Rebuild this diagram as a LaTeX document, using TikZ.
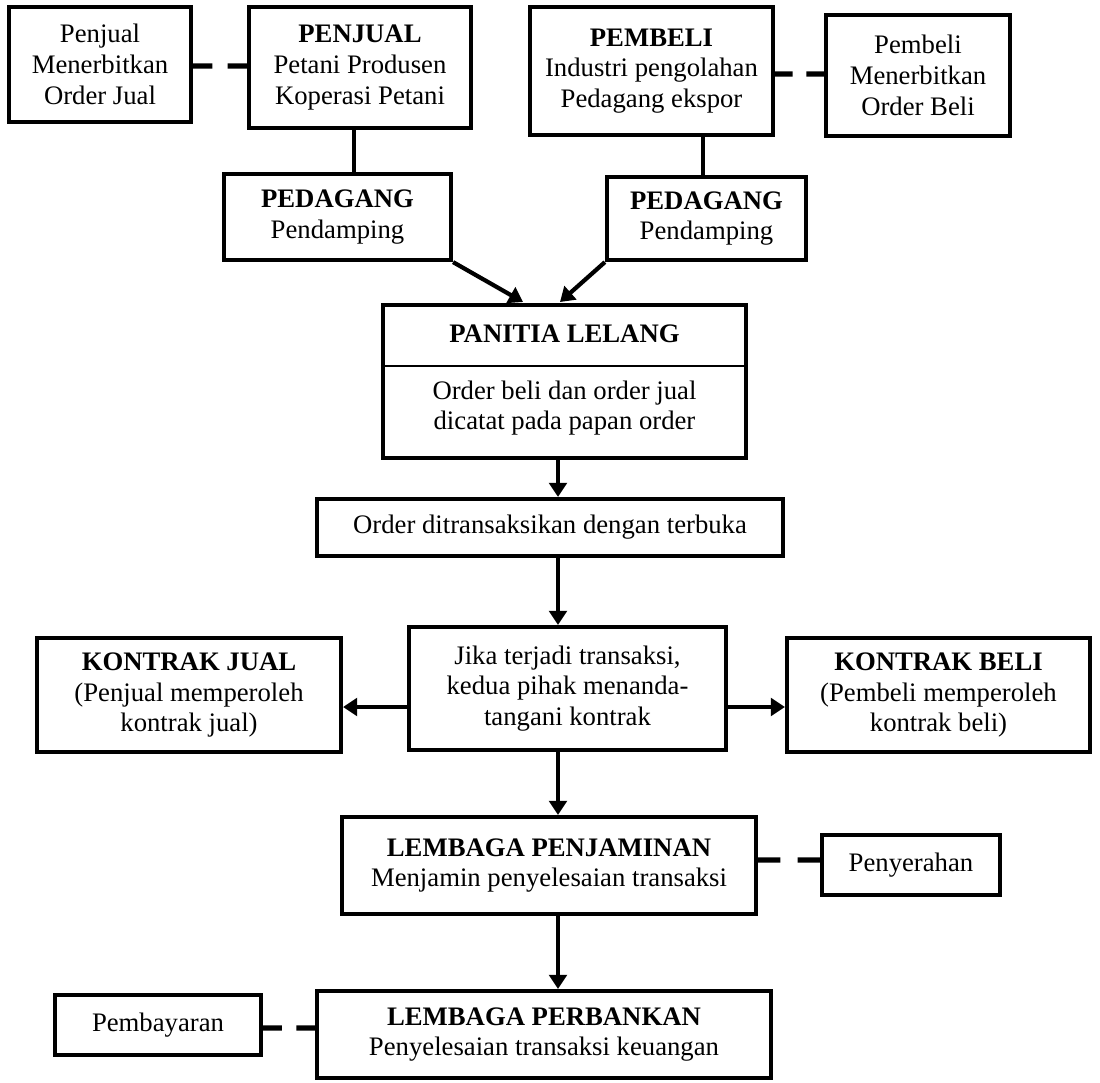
\documentclass[tikz,border=0pt]{standalone}
\usepackage{fontspec}
\setmainfont{Liberation Serif}
\usetikzlibrary{arrows.meta,calc}

\tikzset{
  box/.style={draw, line width=2.4pt, align=center, inner sep=1pt,
    font=\fontsize{15.2pt}{17.5pt}\selectfont},
  plain/.style={align=center, inner sep=0pt, font=\fontsize{15.2pt}{17.5pt}\selectfont},
  flow/.style={line width=2.4pt, -{Triangle[width=10pt,length=8pt]}},
  link/.style={line width=2.4pt},
  dashlink/.style={line width=2.9pt},
}

\begin{document}
\begin{tikzpicture}[x=0.02cm, y=-0.02cm]
    \useasboundingbox (0,0) rectangle (1100,1083);

    % Penjual dan pembeli
    \node[box, minimum width=3.64cm, minimum height=2.30cm] (ordjual) at (100,64.5)
        {Penjual\\Menerbitkan\\Order Jual};
    \node[box, minimum width=4.44cm, minimum height=2.42cm] (penjual) at (360,67.5)
        {\textbf{PENJUAL}\\Petani Produsen\\Koperasi Petani};
    \node[box, minimum width=4.54cm, minimum height=1.72cm] (pedagangL) at (337.5,217)
        {\textbf{PEDAGANG}\\Pendamping};
    \node[box, minimum width=4.86cm, minimum height=2.56cm] (pembeli) at (651.5,71)
        {\textbf{PEMBELI}\\Industri pengolahan\\Pedagang ekspor};
    \node[box, minimum width=3.68cm, minimum height=2.42cm] (ordbeli) at (918,75.5)
        {Pembeli\\Menerbitkan\\Order Beli};
    \node[box, minimum width=3.98cm, minimum height=1.66cm] (pedagangR) at (706.5,218.5)
        {\textbf{PEDAGANG}\\Pendamping};

    % Panitia lelang
    \node[box, minimum width=7.26cm, minimum height=3.06cm] (panitia) at (564.5,381.5) {};
    \node[plain] (panitiaJudul) at (564.5,334) {\textbf{PANITIA LELANG}};
    \node[plain] (panitiaIsi) at (564.5,408) {Order beli dan order jual\\dicatat pada papan order};
    \draw[line width=1.1pt] (panitia.west |- 0,366) -- (panitia.east |- 0,366);

    \node[box, minimum width=9.32cm, minimum height=1.14cm] (terbuka) at (550,527.5)
        {Order ditransaksikan dengan terbuka};

    % Kontrak
    \node[box, minimum width=6.34cm, minimum height=2.46cm] (transaksi) at (567.5,688.5)
        {Jika terjadi transaksi,\\kedua pihak menanda-\\tangani kontrak};
    \node[box, minimum width=6.08cm, minimum height=2.28cm] (kjual) at (189,695)
        {\textbf{KONTRAK JUAL}\\(Penjual memperoleh\\kontrak jual)};
    \node[box, minimum width=6.06cm, minimum height=2.28cm] (kbeli) at (938.5,695)
        {\textbf{KONTRAK BELI}\\(Pembeli memperoleh\\kontrak beli)};

    % Lembaga
    \node[box, minimum width=8.28cm, minimum height=1.94cm] (penjaminan) at (549,865.5)
        {\textbf{LEMBAGA PENJAMINAN}\\Menjamin penyelesaian transaksi};
    \node[box, minimum width=3.56cm, minimum height=1.2cm] (penyerahan) at (911,865)
        {Penyerahan};
    \node[box, minimum width=9.08cm, minimum height=1.74cm] (perbankan) at (544,1034.5)
        {\textbf{LEMBAGA PERBANKAN}\\Penyelesaian transaksi keuangan};
    \node[box, minimum width=4.12cm, minimum height=1.2cm] (pembayaran) at (158,1025)
        {Pembayaran};

    \coordinate (masukL) at (523,302);
    \coordinate (masukR) at (560,302);
    \coordinate (tengah) at (558,0);
    \coordinate (barisK) at (0,707);

    % garis putus-putus
    \draw[dashlink] (ordjual.east |- 0,66) -- ($(ordjual.east |- 0,66)!.36!(penjual.west |- 0,66)$)
        ($(ordjual.east |- 0,66)!.64!(penjual.west |- 0,66)$) -- (penjual.west |- 0,66);
    \draw[dashlink] (pembeli.east |- 0,74) -- ($(pembeli.east |- 0,74)!.36!(ordbeli.west |- 0,74)$)
        ($(pembeli.east |- 0,74)!.64!(ordbeli.west |- 0,74)$) -- (ordbeli.west |- 0,74);
    \draw[dashlink] (penjaminan.east |- 0,860) -- ($(penjaminan.east |- 0,860)!.36!(penyerahan.west |- 0,860)$)
        ($(penjaminan.east |- 0,860)!.64!(penyerahan.west |- 0,860)$) -- (penyerahan.west |- 0,860);
    \draw[dashlink] (pembayaran.east |- 0,1028) -- ($(pembayaran.east |- 0,1028)!.36!(perbankan.west |- 0,1028)$)
        ($(pembayaran.east |- 0,1028)!.64!(perbankan.west |- 0,1028)$) -- (perbankan.west |- 0,1028);

    % garis dan panah
    \draw[link] (penjual.south -| 354,0) -- (pedagangL.north -| 354,0);
    \draw[link] (pembeli.south -| 703,0) -- (pedagangR.north -| 703,0);
    \draw[flow] (pedagangL.south east) -- (masukL);
    \draw[flow] (pedagangR.south west) -- (masukR);
    \draw[flow] (panitia.south -| tengah) -- (terbuka.north -| tengah);
    \draw[flow] (terbuka.south -| tengah) -- (transaksi.north -| tengah);
    \draw[flow] (transaksi.west |- barisK) -- (kjual.east |- barisK);
    \draw[flow] (transaksi.east |- barisK) -- (kbeli.west |- barisK);
    \draw[flow] (transaksi.south -| tengah) -- (penjaminan.north -| tengah);
    \draw[flow] (penjaminan.south -| tengah) -- (perbankan.north -| tengah);
\end{tikzpicture}
\end{document}
